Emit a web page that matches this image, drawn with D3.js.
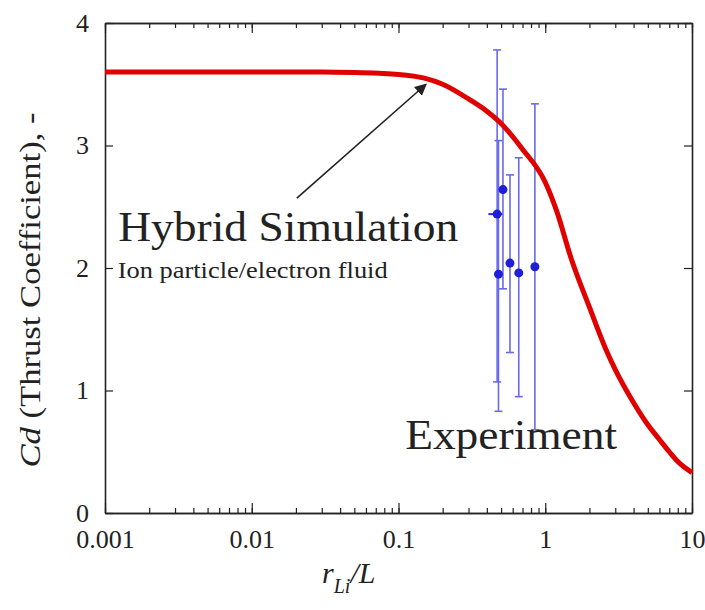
<!DOCTYPE html>
<html>
<head>
<meta charset="utf-8">
<script src="https://cdn.jsdelivr.net/npm/d3@7"></script>
<style>
  body { margin: 0; background: #fff; }
  text { font-family: "Liberation Serif", "Times New Roman", serif; fill: #222; }
</style>
</head>
<body>
<script>
var svgWidth = 705;
var svgHeight = 610;

// simulation curve (r_Li/L, Cd)
var simX = [0.001, 0.003, 0.01, 0.03, 0.05, 0.1, 0.15, 0.2, 0.3, 0.4, 0.5, 0.7, 1, 1.2, 1.5, 2, 2.6, 3, 4, 5, 6, 7, 8, 10];
var simY = [3.6, 3.6, 3.6, 3.6, 3.595, 3.58, 3.55, 3.5, 3.38, 3.28, 3.18, 2.97, 2.7, 2.46, 2.08, 1.68, 1.33, 1.17, 0.9, 0.72, 0.6, 0.5, 0.42, 0.33];

// experiment points with error bars
var expX    = [0.47, 0.48, 0.515, 0.575, 0.66, 0.85];
var expY    = [2.44, 1.95, 2.64, 2.04, 1.96, 2.01];
var expLow  = [1.07, 0.83, 1.83, 1.31, 0.95, 0.68];
var expHigh = [3.78, 3.04, 3.46, 2.76, 2.9, 3.34];
var expXLow  = [0.41, 0.46, 0.49, 0.55, 0.64, 0.82];
var expXHigh = [0.51, 0.5, 0.54, 0.6, 0.68, 0.88];

var xTickLabels = ["0.001", "0.01", "0.1", "1", "10"];
var yTickValues = [0, 1, 2, 3, 4];

var margin = {top: 23, right: 13, bottom: 97, left: 105};
var chartWidth = svgWidth - margin.left - margin.right;
var chartHeight = svgHeight - margin.top - margin.bottom;

var svg = d3.select("body")
  .append("svg")
  .attr("width", svgWidth)
  .attr("height", svgHeight);

var chartGroup = svg.append("g")
  .attr("transform", `translate(${margin.left}, ${margin.top})`);

var xScale = d3.scaleLog().domain([0.001, 10]).range([0, chartWidth]);
var yScale = d3.scaleLinear().domain([0, 4]).range([chartHeight, 0]);

var majorX = xTickLabels.map(Number);

function styleAxis(g) {
  g.select(".domain").attr("stroke", "#222").attr("stroke-width", 1.6);
  g.selectAll(".tick line").attr("stroke", "#222").attr("stroke-width", 1.2);
  g.selectAll("text").style("font-size", "26px").attr("fill", "#222");
}

// minor log ticks, bottom and top
chartGroup.append("g")
  .attr("transform", `translate(0, ${chartHeight})`)
  .call(d3.axisBottom(xScale).ticks(10).tickSizeInner(-5).tickSizeOuter(0).tickFormat(""))
  .call(styleAxis);
chartGroup.append("g")
  .call(d3.axisTop(xScale).ticks(10).tickSizeInner(-5).tickSizeOuter(0).tickFormat(""))
  .call(styleAxis);

// major ticks with labels
chartGroup.append("g")
  .attr("transform", `translate(0, ${chartHeight})`)
  .call(d3.axisBottom(xScale).tickValues(majorX).tickSizeInner(-10).tickSizeOuter(0)
    .tickPadding(17).tickFormat((d, i) => xTickLabels[i]))
  .call(styleAxis);
chartGroup.append("g")
  .call(d3.axisTop(xScale).tickValues(majorX).tickSizeInner(-10).tickSizeOuter(0).tickFormat(""))
  .call(styleAxis);

chartGroup.append("g")
  .call(d3.axisLeft(yScale).tickValues(yTickValues).tickSizeInner(-8).tickSizeOuter(0)
    .tickPadding(16).tickFormat(d3.format("d")))
  .call(styleAxis);
chartGroup.append("g")
  .attr("transform", `translate(${chartWidth}, 0)`)
  .call(d3.axisRight(yScale).tickValues(yTickValues).tickSizeInner(-8).tickSizeOuter(0).tickFormat(""))
  .call(styleAxis);

// error bars
var expData = expX.map((x, i) => ({
  x: x, y: expY[i], lo: expLow[i], hi: expHigh[i], xlo: expXLow[i], xhi: expXHigh[i]
}));

var eb = chartGroup.append("g").attr("stroke", "#6a6ae8").attr("stroke-width", 1.6);
eb.selectAll("line.v").data(expData).enter().append("line")
  .attr("x1", d => xScale(d.x)).attr("x2", d => xScale(d.x))
  .attr("y1", d => yScale(d.lo)).attr("y2", d => yScale(d.hi));
eb.selectAll("line.h").data(expData).enter().append("line")
  .attr("x1", d => xScale(d.xlo)).attr("x2", d => xScale(d.xhi))
  .attr("y1", d => yScale(d.y)).attr("y2", d => yScale(d.y))
  .attr("stroke", "#2a2ad8").attr("stroke-width", 2);
eb.selectAll("line.capHi").data(expData).enter().append("line")
  .attr("x1", d => xScale(d.x) - 4).attr("x2", d => xScale(d.x) + 4)
  .attr("y1", d => yScale(d.hi)).attr("y2", d => yScale(d.hi));
eb.selectAll("line.capLo").data(expData).enter().append("line")
  .attr("x1", d => xScale(d.x) - 4).attr("x2", d => xScale(d.x) + 4)
  .attr("y1", d => yScale(d.lo)).attr("y2", d => yScale(d.lo));

chartGroup.selectAll("circle")
  .data(expData)
  .enter()
  .append("circle")
  .attr("cx", d => xScale(d.x))
  .attr("cy", d => yScale(d.y))
  .attr("r", 4.5)
  .attr("fill", "#1f1fd6");

// simulation curve
var drawLine = d3.line()
  .x(d => xScale(d[0]))
  .y(d => yScale(d[1]))
  .curve(d3.curveMonotoneX);

chartGroup.append("path")
  .attr("d", drawLine(simX.map((x, i) => [x, simY[i]])))
  .attr("stroke", "#e00000")
  .attr("stroke-width", 5)
  .attr("stroke-linejoin", "round")
  .style("fill", "none");

// annotation arrow
svg.append("defs").append("marker")
  .attr("id", "arrow")
  .attr("viewBox", "0 0 10 10")
  .attr("refX", 9).attr("refY", 5)
  .attr("markerWidth", 12).attr("markerHeight", 12)
  .attr("markerUnits", "userSpaceOnUse")
  .attr("orient", "auto")
  .append("path").attr("d", "M0,0 L10,5 L0,10 z").attr("fill", "#222");

chartGroup.append("line")
  .attr("x1", xScale(0.0203)).attr("y1", yScale(2.57))
  .attr("x2", xScale(0.154)).attr("y2", yScale(3.5))
  .attr("stroke", "#222").attr("stroke-width", 1.6)
  .attr("marker-end", "url(#arrow)");

chartGroup.append("text")
  .attr("x", xScale(0.00123)).attr("y", yScale(2.22))
  .attr("textLength", 340).attr("lengthAdjust", "spacingAndGlyphs")
  .style("font-size", "42px")
  .text("Hybrid Simulation");

chartGroup.append("text")
  .attr("x", xScale(0.00122)).attr("y", yScale(1.92))
  .attr("textLength", 270).attr("lengthAdjust", "spacingAndGlyphs")
  .style("font-size", "24px")
  .text("Ion particle/electron fluid");

chartGroup.append("text")
  .attr("x", xScale(0.111)).attr("y", yScale(0.52))
  .attr("textLength", 212).attr("lengthAdjust", "spacingAndGlyphs")
  .style("font-size", "42px")
  .text("Experiment");

// axis titles
var xt = svg.append("text")
  .attr("x", 322).attr("y", 583)
  .style("font-size", "30px")
  .style("font-style", "italic");
xt.append("tspan").text("r");
xt.append("tspan").attr("dy", 10).style("font-size", "20px").text("Li");
xt.append("tspan").attr("dy", -10).text("/L");

var yt = svg.append("text")
  .attr("transform", "translate(40, 290) rotate(-90)")
  .attr("text-anchor", "middle")
  .attr("textLength", 355).attr("lengthAdjust", "spacingAndGlyphs")
  .style("font-size", "29px");
yt.append("tspan").style("font-style", "italic").text("Cd");
yt.append("tspan").text(" (Thrust Coefficient), -");
</script>
</body>
</html>
